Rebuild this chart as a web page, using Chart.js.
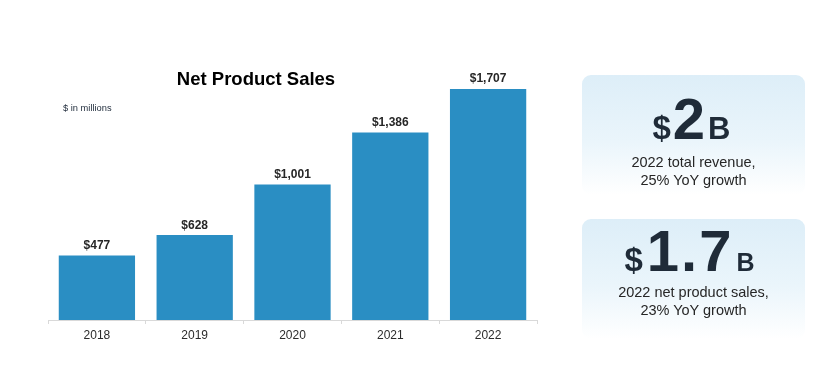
<!DOCTYPE html>
<html>
<head>
<meta charset="utf-8">
<script src="https://cdn.jsdelivr.net/npm/chart.js@4"></script>
<style>
  html, body { margin: 0; padding: 0; background: #ffffff; }
  #wrap { position: relative; width: 836px; height: 371px; overflow: hidden; font-family: "Liberation Sans", Arial, sans-serif; }
  #c { position: absolute; left: 0; top: 0; }
  .panel { position: absolute; left: 582px; width: 223px; height: 120px; border-radius: 9px;
           background: linear-gradient(to bottom, #ddeef8 0%, #eaf5fb 55%, #ffffff 100%); }
  .big { position: absolute; left: 0; width: 100%; box-sizing: border-box; text-align: center; color: #1f2b38; font-weight: bold; white-space: nowrap; }
  .sub { position: absolute; left: 0; width: 100%; text-align: center; color: #262626; font-size: 14.5px; line-height: 18px; }
</style>
</head>
<body>
<div id="wrap">
  <canvas id="c" width="836" height="371"></canvas>
  <div class="panel" style="top:75px;">
    <div class="big" style="top:15px;font-size:58px;line-height:58px;padding-right:4px;"><span style="font-size:33px;line-height:30px;margin-right:2px;">$</span>2<span style="font-size:31px;line-height:30px;margin-left:3px;">B</span></div>
    <div class="sub" style="top:78px;">2022 total revenue,<br>25% YoY growth</div>
  </div>
  <div class="panel" style="top:219px;">
    <div class="big" style="top:3px;font-size:58px;line-height:58px;padding-right:8px;"><span style="font-size:33px;line-height:28px;margin-right:4px;">$</span><span style="letter-spacing:2px;">1.7</span><span style="font-size:25px;line-height:24px;margin-left:3px;">B</span></div>
    <div class="sub" style="top:65px;line-height:17.5px;">2022 net product sales,<br>23% YoY growth</div>
  </div>
</div>
<script>
const categories = ['2018', '2019', '2020', '2021', '2022'];
const netProductSales = [477, 628, 1001, 1386, 1707];
const chartTitle = 'Net Product Sales';
const unitNote = '$ in millions';

const labelPlugin = {
  id: 'labels',
  afterDraw(chart) {
    const ctx = chart.ctx;
    ctx.save();
    ctx.fillStyle = '#000000';
    ctx.font = 'bold 18.5px "Liberation Sans", Arial, sans-serif';
    ctx.textAlign = 'center';
    ctx.textBaseline = 'middle';
    ctx.fillText(chartTitle, 256, 80);
    ctx.fillStyle = '#1e2a3a';
    ctx.font = '9.3px "Liberation Sans", Arial, sans-serif';
    ctx.textAlign = 'left';
    ctx.fillText(unitNote, 63, 108);
    const meta = chart.getDatasetMeta(0);
    ctx.fillStyle = '#262626';
    ctx.font = 'bold 12px "Liberation Sans", Arial, sans-serif';
    ctx.textAlign = 'center';
    ctx.textBaseline = 'alphabetic';
    meta.data.forEach((bar, i) => {
      const v = chart.data.datasets[0].data[i];
      ctx.fillText('$' + v.toLocaleString('en-US'), bar.x, bar.y - 6.5);
    });
    ctx.restore();
  }
};

new Chart(document.getElementById('c'), {
  type: 'bar',
  data: {
    labels: categories,
    datasets: [{
      data: netProductSales,
      backgroundColor: '#2a8ec3',
      borderWidth: 0,
      categoryPercentage: 1,
      barPercentage: 0.78
    }]
  },
  options: {
    responsive: false,
    animation: false,
    layout: { padding: { left: 48, right: 299, top: 60, bottom: 0 } },
    plugins: { legend: { display: false }, title: { display: false }, tooltip: { enabled: false } },
    scales: {
      x: {
        afterFit: (scale) => { scale.height = 51; },
        grid: { offset: true, drawOnChartArea: false, drawTicks: true, tickLength: 4, color: '#d9d9d9' },
        border: { color: '#d9d9d9', width: 1 },
        ticks: { color: '#2b2b2b', padding: 4, font: { family: '"Liberation Sans", Arial, sans-serif', size: 12 } }
      },
      y: { display: false, min: 0, max: 1921 }
    }
  },
  plugins: [labelPlugin]
});
</script>
</body>
</html>
